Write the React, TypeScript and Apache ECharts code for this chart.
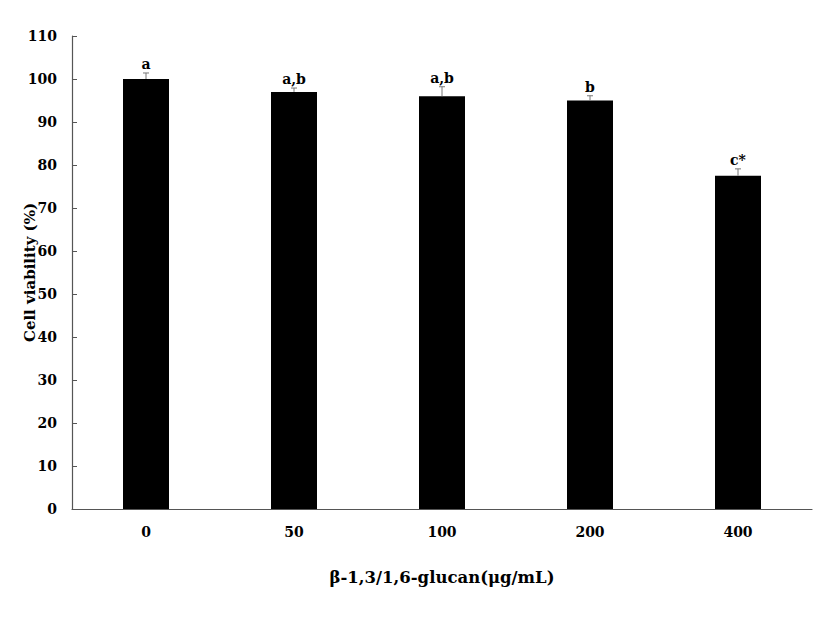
import React, { useEffect, useRef } from "react";
import * as echarts from "echarts";

const categories = ["0", "50", "100", "200", "400"];
const viability = [100, 97, 96, 95, 77.5];
const errors = [1.4, 0.9, 2.2, 1.1, 1.6];
const letters = ["a", "a,b", "a,b", "b", "c*"];
const yTicks = { min: 0, max: 110, interval: 10 };

const FONT = "'DejaVu Serif', 'Liberation Serif', serif";

export default function App() {
  const ref = useRef<HTMLDivElement>(null);
  useEffect(() => {
    if (!ref.current) return;
    const chart = echarts.init(ref.current, null, { renderer: "svg" });
    chart.setOption({
      animation: false,
      backgroundColor: "#ffffff",
      grid: { left: 64, right: 7, top: 28, bottom: 101, containLabel: false, outerBoundsMode: "none" },
      xAxis: {
        type: "category",
        data: categories,
        name: "β-1,3/1,6-glucan(μg/mL)",
        nameLocation: "middle",
        nameGap: 60,
        nameMoveOverlap: false,
        nameTextStyle: { fontFamily: FONT, fontWeight: "bold", fontSize: 16.5, color: "#000" },
        axisLine: { lineStyle: { color: "#555", width: 1.2 } },
        axisTick: { show: false },
        axisLabel: { fontFamily: FONT, fontWeight: "bold", fontSize: 14, color: "#000", margin: 16 },
      },
      yAxis: {
        type: "value",
        min: yTicks.min,
        max: yTicks.max,
        interval: yTicks.interval,
        name: "Cell viability (%)",
        nameLocation: "middle",
        nameGap: 35,
        nameMoveOverlap: false,
        nameTextStyle: { fontFamily: FONT, fontWeight: "bold", fontSize: 15, color: "#000" },
        axisLine: { show: true, lineStyle: { color: "#555", width: 1.2 } },
        axisTick: { show: true, inside: true, length: 5, lineStyle: { color: "#555" } },
        splitLine: { show: false },
        axisLabel: { fontFamily: FONT, fontWeight: "bold", fontSize: 14, color: "#000", margin: 15 },
      },
      series: [
        {
          type: "bar",
          data: viability,
          barWidth: 46,
          itemStyle: { color: "#000" },
          z: 2,
        },
        {
          type: "custom",
          z: 3,
          data: viability.map((v, i) => [i, v, errors[i]]),
          renderItem: (params: any, api: any) => {
            const i = api.value(0);
            const v = api.value(1);
            const e = api.value(2);
            const top = api.coord([i, v]);
            const hi = api.coord([i, v + e]);
            return {
              type: "group",
              children: [
                {
                  type: "line",
                  shape: { x1: top[0], y1: top[1], x2: hi[0], y2: hi[1] },
                  style: { stroke: "#777", lineWidth: 1 },
                },
                {
                  type: "line",
                  shape: { x1: hi[0] - 3, y1: hi[1], x2: hi[0] + 3, y2: hi[1] },
                  style: { stroke: "#777", lineWidth: 1 },
                },
                {
                  type: "text",
                  style: {
                    text: letters[params.dataIndex],
                    x: hi[0],
                    y: hi[1] - 2,
                    align: "center",
                    verticalAlign: "bottom",
                    fontFamily: FONT,
                    fontWeight: "bold",
                    fontSize: 14,
                    fill: "#000",
                  },
                },
              ],
            };
          },
        },
      ],
    });
    return () => chart.dispose();
  }, []);
  return <div ref={ref} style={{ width: 811, height: 602 }} />;
}
